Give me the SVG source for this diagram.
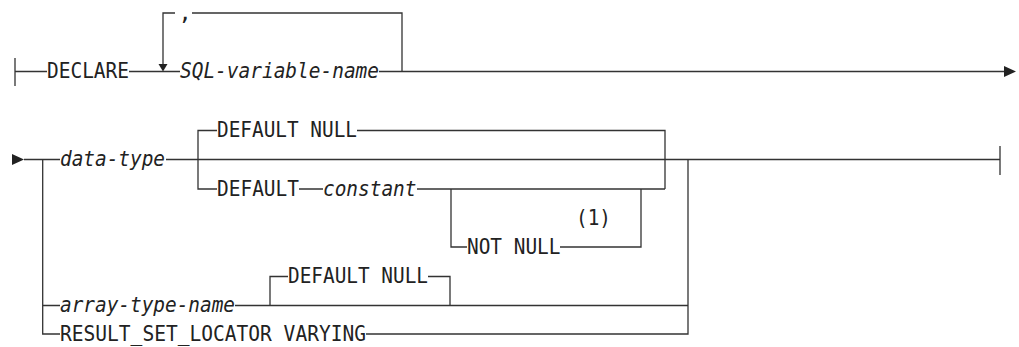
<svg xmlns="http://www.w3.org/2000/svg" width="1019" height="347" viewBox="0 0 1019 347">
<style>
text{font-family:"DejaVu Sans Mono","Liberation Mono",monospace;font-size:22px;fill:#222}
.v{font-style:italic}
.c path{fill:none;stroke:#333;stroke-width:1.3}
.c polygon{fill:#222;stroke:none}
</style>
<rect width="1019" height="347" fill="#fff"/>
<g class="c" id="connectors">
<path d="M15 58V86M15 71.5H47M129 71.5H180M379 71.5H1004"/>
<path d="M163 64V13H175M192 13H402V71.5"/>
<polygon points="158.5,64 167.5,64 163,71.5"/>
<polygon points="1004,66 1004,77 1016,71.5"/>
<polygon points="12,154 12,165 24,159.5"/>
<path d="M24 159.5H60M166 159.5H1000M1000 146V175"/>
<path d="M42.7 159.5V334H60M42.7 305.5H60"/>
<path d="M198 159.5V130.5H217M357 130.5H665V189"/>
<path d="M198 159.5V189H217M299 189H323M417 189H665"/>
<path d="M451 189V247H467M560 247H641V189"/>
<path d="M235 305.5H688M270 305.5V276.5H288M428 276.5H450V305.5"/>
<path d="M366 334H688V159.5"/>
</g>
<g id="declare"><text x="47" y="77.5" textLength="82" lengthAdjust="spacingAndGlyphs">DECLARE</text></g>
<g id="comma"><text x="185" y="19.5" text-anchor="middle">,</text></g>
<g id="sql-variable-name"><text class="v" x="180" y="77.5" textLength="199" lengthAdjust="spacingAndGlyphs">SQL-variable-name</text></g>
<g id="data-type"><text class="v" x="60" y="166" textLength="105" lengthAdjust="spacingAndGlyphs">data-type</text></g>
<g id="default-null-1"><text x="217" y="137" textLength="140" lengthAdjust="spacingAndGlyphs">DEFAULT NULL</text></g>
<g id="default"><text x="217" y="195.5" textLength="82" lengthAdjust="spacingAndGlyphs">DEFAULT</text></g>
<g id="constant"><text class="v" x="323" y="195.5" textLength="93.5" lengthAdjust="spacingAndGlyphs">constant</text></g>
<g id="not-null"><text x="467" y="253.5" textLength="93.5" lengthAdjust="spacingAndGlyphs">NOT NULL</text></g>
<g id="note-1"><text x="576" y="225" textLength="35" lengthAdjust="spacingAndGlyphs">(1)</text></g>
<g id="array-type-name"><text class="v" x="60" y="312" textLength="175" lengthAdjust="spacingAndGlyphs">array-type-name</text></g>
<g id="default-null-2"><text x="288" y="283" textLength="140" lengthAdjust="spacingAndGlyphs">DEFAULT NULL</text></g>
<g id="result-set-locator"><text x="60" y="340.5" textLength="306" lengthAdjust="spacingAndGlyphs">RESULT_SET_LOCATOR VARYING</text></g>
</svg>
